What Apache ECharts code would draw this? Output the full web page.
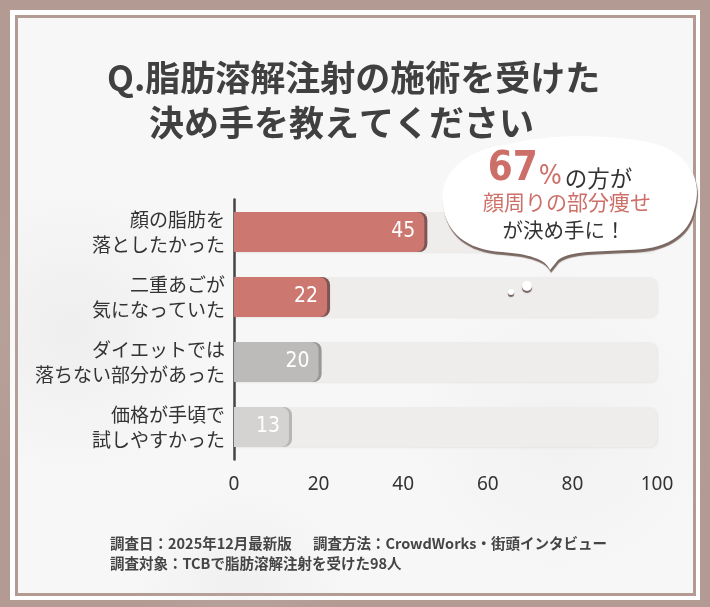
<!DOCTYPE html>
<html><head><meta charset="utf-8">
<script src="https://cdn.jsdelivr.net/npm/echarts@6/dist/echarts.min.js"></script>
<style>html,body{margin:0;padding:0;background:#B39B93;}#c{width:710px;height:607px;}</style>
</head><body><div id="c"></div>
<script>
const categories = ['顔の脂肪を\n落としたかった', '二重あごが\n気になっていた', 'ダイエットでは\n落ちない部分があった', '価格が手頃で\n試しやすかった'];
const values = [45, 22, 20, 13];
const barColors = ['#CD7771', '#CD7771', '#BDBABA', '#D5D2D2'];
const edgeColors = ['#7E5552', '#7E5552', '#9A9696', '#B9B5B5'];
const xTicks = { min: 0, max: 100, interval: 20 };
const titleLines = ['Q.脂肪溶解注射の施術を受けた', '決め手を教えてください'];
const noteParts = ['調査日：2025年12月最新版', '調査方法：CrowdWorks・街頭インタビュー', '調査対象：TCBで脂肪溶解注射を受けた98人'];

const JP = '"Noto Sans CJK JP", "Noto Sans", sans-serif';
const COND = '"DejaVu Sans Condensed", "Liberation Sans Narrow", Roboto, sans-serif';
const bubblePath = 'M 443 205 C 438 170 470 148 510 144 C 545 134 605 134 647 142 C 690 150 704 182 694 210 C 689 236 664 250 628 250 C 598 252 572 250 558 260 L 550 270 C 546 259 528 254 502 252 C 466 250 446 232 443 205 Z';
echarts.graphic.registerShape('bubbleShape', echarts.graphic.extendPath(bubblePath, {}));

const chart = echarts.init(document.getElementById('c'), null, {renderer: 'canvas'});
const brown = '#B39B93';
function blob(cx, cy, r, a) {
  return {type: 'circle', z: -8, silent: true, shape: {cx: cx, cy: cy, r: r},
    style: {fill: new echarts.graphic.RadialGradient(0.5, 0.5, 0.5, [{offset: 0, color: 'rgba(200,198,198,' + a + ')'}, {offset: 1, color: 'rgba(200,198,198,0)'}])}};
}
chart.setOption({
  backgroundColor: brown,
  animation: false,
  graphic: [
    {type: 'rect', z: -10, shape: {x: 10, y: 10, width: 690, height: 590}, style: {fill: '#FFFFFF'}, silent: true},
    {type: 'rect', z: -9, shape: {x: 16.5, y: 16.5, width: 678, height: 578}, style: {fill: '#F8F7F7', stroke: brown, lineWidth: 3}, silent: true},
    blob(70, 330, 150, 0.18),
    blob(560, 430, 160, 0.12),
    blob(240, 590, 110, 0.15),
    {type: 'text', z: 10, style: {x: 107, y: 78, text: titleLines[0], fontSize: 35, fontWeight: 'bold', fontFamily: JP, fill: '#404040', textVerticalAlign: 'middle'}},
    {type: 'text', z: 10, style: {x: 149, y: 123, text: titleLines[1], fontSize: 35, fontWeight: 'bold', fontFamily: JP, fill: '#404040', textVerticalAlign: 'middle'}},
    {type: 'bubbleShape', z: 20, shape: {},
      style: {fill: '#FFFFFF', shadowColor: '#7A6761', shadowOffsetY: 3, shadowOffsetX: 1, shadowBlur: 1}},
    {type: 'circle', z: 20, shape: {cx: 527, cy: 286, r: 5}, style: {fill: '#FFFFFF', shadowColor: '#6E5D58', shadowOffsetY: 2, shadowBlur: 1}},
    {type: 'circle', z: 20, shape: {cx: 511, cy: 292, r: 3}, style: {fill: '#FFFFFF', shadowColor: '#6E5D58', shadowOffsetY: 2, shadowBlur: 1}},
    {type: 'text', z: 21, style: {x: 560, y: 170, text: '{a|67}{b|%}{c|の方が}', textAlign: 'center', textVerticalAlign: 'middle',
      rich: {a: {fontSize: 40, fontWeight: 'bold', fill: '#CD6F69', fontFamily: COND, verticalAlign: 'bottom'},
             b: {fontSize: 27, fill: '#CD6F69', fontFamily: COND, verticalAlign: 'bottom', padding: [0, 3, 0, 1]},
             c: {fontSize: 22.5, fill: '#333333', fontFamily: JP, verticalAlign: 'bottom'}}}},
    {type: 'text', z: 21, style: {x: 567, y: 202, text: '顔周りの部分痩せ', fontSize: 21, fill: '#CD6F69', fontFamily: JP, textAlign: 'center', textVerticalAlign: 'middle'}},
    {type: 'text', z: 21, style: {x: 564, y: 230, text: 'が決め手に！', fontSize: 20.5, fill: '#333333', fontFamily: JP, textAlign: 'center', textVerticalAlign: 'middle'}},
    {type: 'text', z: 10, style: {x: 110, y: 543, text: noteParts[0], fontSize: 14.5, fontWeight: 'bold', fill: '#454545', fontFamily: JP, textVerticalAlign: 'middle'}},
    {type: 'text', z: 10, style: {x: 313, y: 543, text: noteParts[1], fontSize: 14.5, fontWeight: 'bold', fill: '#454545', fontFamily: JP, textVerticalAlign: 'middle'}},
    {type: 'text', z: 10, style: {x: 110, y: 563, text: noteParts[2], fontSize: 14.5, fontWeight: 'bold', fill: '#454545', fontFamily: JP, textVerticalAlign: 'middle'}}
  ],
  grid: {left: 234, right: 53, top: 199.5, height: 260, containLabel: false},
  xAxis: {type: 'value', min: xTicks.min, max: xTicks.max, interval: xTicks.interval,
    splitLine: {show: false}, axisLine: {show: false}, axisTick: {show: false},
    axisLabel: {fontSize: 19, color: '#333333', margin: 16, fontFamily: '"Noto Sans", sans-serif'}},
  yAxis: {type: 'category', data: categories, inverse: true,
    axisLine: {show: true, lineStyle: {color: '#444444', width: 2.5}}, axisTick: {show: false},
    axisLabel: {fontSize: 19, color: '#333333', lineHeight: 25, margin: 9, align: 'right', fontFamily: JP}},
  series: [{
    type: 'bar', barWidth: 40,
    showBackground: true,
    backgroundStyle: {color: '#EFECEC', borderRadius: [0, 8, 8, 0], shadowColor: 'rgba(0,0,0,0.06)', shadowOffsetX: 1, shadowOffsetY: 1, shadowBlur: 2},
    data: values.map((v, i) => ({value: v, itemStyle: {color: barColors[i], shadowColor: edgeColors[i], shadowOffsetX: 3, shadowBlur: 0}})),
    itemStyle: {borderRadius: [0, 8, 8, 0]},
    label: {show: true, position: 'insideRight', distance: 9, color: '#FFFFFF', fontSize: 21, fontFamily: COND}
  }]
});
</script></body></html>
